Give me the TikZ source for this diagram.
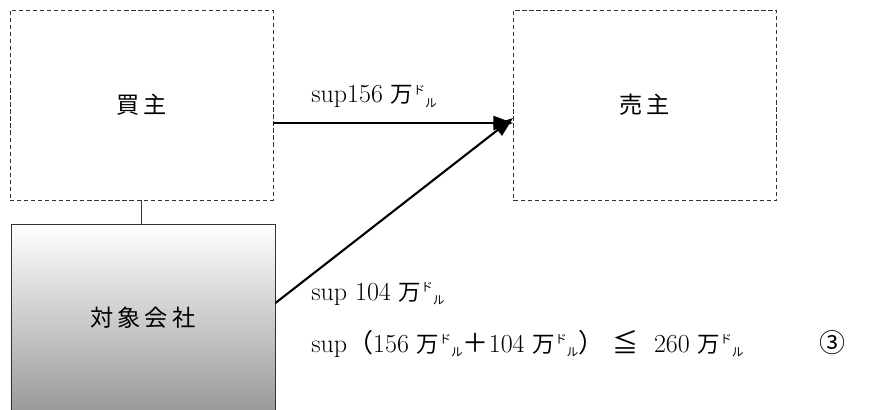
\documentclass[tikz,border=0pt]{standalone}
\usepackage{fontspec}
\newfontfamily\jp{Noto Sans CJK JP}
\usetikzlibrary{arrows.meta}

% small "doru" unit written as raised/lowered kana
\newcommand{\doru}{{\jp\raisebox{.6ex}{\scalebox{.45}{ド}}\raisebox{-.3ex}{\scalebox{.45}{ル}}}}
\newcommand{\man}{{\jp\fontsize{16}{18}\selectfont 万}}

\begin{document}
\begin{tikzpicture}[x=0.025cm, y=0.025cm, font=\fontsize{18.5}{22}\selectfont]
 \tikzset{
  party/.style={draw=black!80, dash pattern=on 3pt off 2pt, line width=.6pt,
    minimum width=6.575cm, minimum height=4.75cm, font=\jp\fontsize{16.5}{18}\selectfont},
  company/.style={draw=black!80, line width=.6pt, top color=white, bottom color=black!40,
    minimum width=6.6cm, minimum height=4.7cm, font=\jp\fontsize{16.5}{18}\selectfont},
  pay/.style={-{Triangle[length=14pt, width=10pt]}, line width=1.5pt},
  amount/.style={anchor=base west, inner sep=0pt}
 }
 \useasboundingbox (0,0) rectangle (880,409);
 \clip (0,0) rectangle (880,409);

 \node [party] (buyer) at (141.5,304) {買\,主};
 \node [party] (seller) at (645,304) {売\,主};
 \node [company] (target) at (143,91) {対\,象\,会\,社};

 \draw [line width=.6pt, black!80] (buyer.south) -- (buyer.south |- target.north);

 \draw [pay] ([yshift=-.45cm]buyer.east) -- ([yshift=-.45cm]seller.west);
 \draw [pay] ([yshift=.375cm]target.east) -- ([yshift=-.325cm]seller.west);

 \node [amount] (price) at (311,306) {sup156 \man\doru};
 \node [amount] (earnout) at (311,109) {sup 104 \man\doru};
 \node [amount] (total) at (311,57) {sup{\jp（}156 \man\doru{\jp＋}104 \man\doru{\jp）}\ {\jp≦}\ \ 260 \man\doru};
 \node [amount, anchor=base] (mark) at (832,57) {\jp ③};
\end{tikzpicture}
\end{document}
